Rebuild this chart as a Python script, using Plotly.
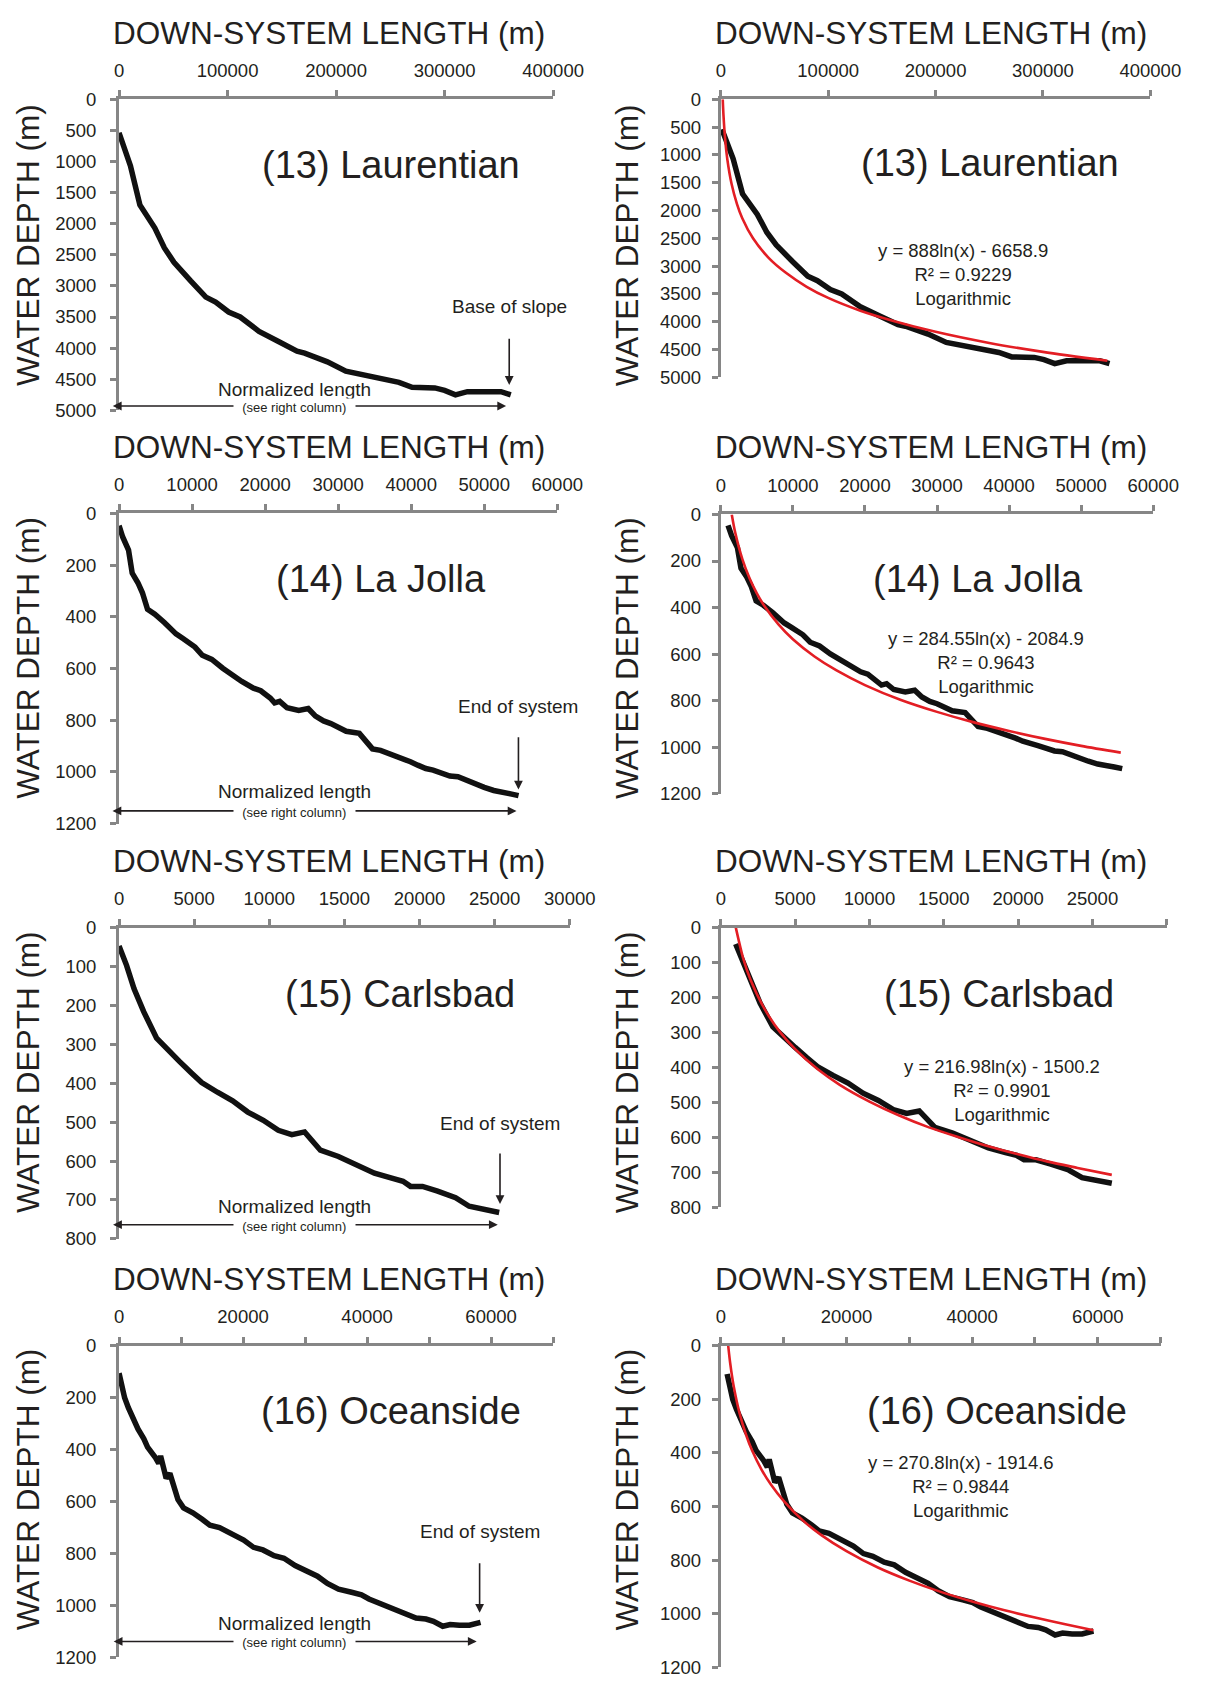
import plotly.graph_objects as go

W, H = 1224, 1686

# ---------------- DATA ----------------
# Left column: down-system length (m) vs water depth (m)
lau_x = [0, 10500, 19200, 33000, 41800, 50600, 66000, 80000, 89000, 101000, 111600, 129000,
         146500, 164000, 171000, 185000, 192000, 209000, 227000, 244000, 258000, 270000,
         291000, 300000, 310000, 321000, 352000, 361000]
lau_y = [540, 1070, 1700, 2070, 2390, 2620, 2920, 3180, 3260, 3420, 3500, 3730,
         3890, 4050, 4080, 4180, 4220, 4370, 4440, 4500, 4550, 4630,
         4640, 4680, 4750, 4700, 4700, 4750]

lj_x = [0, 500, 1300, 1800, 2600, 3200, 3900, 4900, 6200, 7800, 8800, 10400, 11400, 12700,
        14200, 15500, 16800, 18400, 19400, 20700, 21300, 22000, 23000, 24600, 25900, 26900,
        28000, 29000, 30000, 31100, 32900, 33700, 34700, 35800, 37000, 38600, 39900, 40900,
        42000, 43000, 44300, 45300, 46400, 47700, 48700, 50000, 51300, 52600, 53600, 54700]
lj_y = [47, 91, 142, 231, 269, 307, 371, 390, 422, 466, 485, 517, 549, 565,
        599, 625, 650, 676, 686, 714, 733, 727, 752, 762, 755, 784,
        803, 813, 828, 843, 851, 879, 911, 917, 930, 942, 961, 974,
        987, 993, 1006, 1016, 1019, 1035, 1044, 1060, 1072, 1082, 1085, 1092]

carl_x = [0, 500, 1000, 1640, 2500, 3300, 4000, 4800, 5500, 6550, 7560, 8570, 9600, 10600,
          11500, 12350, 13400, 14600, 15900, 17000, 18150, 18900, 19400, 20200, 21200,
          22400, 23300, 24200, 25300]
carl_y = [47, 97, 157, 216, 284, 313, 343, 373, 398, 423, 445, 474, 495, 521,
          532, 525, 572, 588, 610, 631, 644, 652, 665, 665, 677,
          694, 716, 722, 732]

oc_x = [0, 500, 900, 1500, 2400, 3050, 4000, 4600, 5800, 6400, 6700, 7200, 7600, 8200,
        8900, 9500, 10400, 11900, 13400, 14650, 16200, 18300, 20100, 21700, 23200, 25000,
        26600, 28400, 30500, 32000, 33600, 35400, 37500, 39100, 40300, 42100, 44000, 45800,
        47900, 49500, 50700, 52200, 53400, 54900, 56500, 58300]
oc_y = [105, 162, 200, 238, 289, 320, 358, 390, 428, 453, 424, 478, 510, 491,
        542, 592, 624, 643, 668, 691, 700, 725, 748, 776, 786, 808,
        818, 846, 868, 887, 915, 937, 949, 959, 975, 991, 1010, 1027,
        1048, 1052, 1061, 1080, 1073, 1076, 1076, 1065]

# Right column: profiles plotted with a 1000 m origin shift (log fit needs x > 0)
right_shift = 1000

# Logarithmic trend lines (red)
lau_fit_x = [1800, 2500, 4000, 6000, 10000, 15000, 20000, 30000, 45000, 60000, 80000, 100000,
             130000, 160000, 200000, 250000, 300000, 360000]
lau_fit_y = [0, 290, 710, 1070, 1520, 1880, 2140, 2500, 2860, 3110, 3370, 3570,
             3800, 3980, 4180, 4380, 4540, 4700]
lj_fit_x = [1520, 2000, 3000, 4000, 5000, 6000, 8000, 10000, 13000, 16000, 20000, 25000,
            30000, 35000, 40000, 45000, 50000, 55500]
lj_fit_y = [0, 78, 193, 275, 339, 391, 472, 536, 610, 669, 733, 797,
            848, 892, 930, 964, 994, 1023]
carl_fit_x = [1010, 1500, 2000, 3000, 4000, 5000, 6500, 8000, 10000, 12000, 14000, 16000,
              18000, 20000, 22000, 24000, 26300]
carl_fit_y = [0, 87, 149, 237, 300, 348, 405, 450, 498, 538, 572, 600,
              626, 649, 670, 688, 708]
oc_fit_x = [1180, 1500, 2000, 3000, 4000, 5000, 6500, 8000, 10000, 13000, 16000, 20000,
            25000, 30000, 35000, 40000, 45000, 50000, 55000, 59300]
oc_fit_y = [0, 66, 144, 253, 331, 392, 463, 519, 579, 651, 707, 767,
            828, 877, 919, 955, 987, 1015, 1041, 1062]

# Tick values
lau_xticks = [0, 100000, 200000, 300000, 400000]
lau_yticks = [0, 500, 1000, 1500, 2000, 2500, 3000, 3500, 4000, 4500, 5000]
lj_xticks = [0, 10000, 20000, 30000, 40000, 50000, 60000]
lj_yticks = [0, 200, 400, 600, 800, 1000, 1200]
carl_xticks = [0, 5000, 10000, 15000, 20000, 25000, 30000]
carl_xlabels_left = ["0", "5000", "10000", "15000", "20000", "25000", "30000"]
carl_xlabels_right = ["0", "5000", "10000", "15000", "20000", "25000", ""]
carl_yticks = [0, 100, 200, 300, 400, 500, 600, 700, 800]
oc_xticks = [0, 20000, 40000, 60000]
oc_yticks = [0, 200, 400, 600, 800, 1000, 1200]

names = ["(13) Laurentian", "(14) La Jolla", "(15) Carlsbad", "(16) Oceanside"]
equations = ["y = 888ln(x) - 6658.9<br>R² = 0.9229<br>Logarithmic",
             "y = 284.55ln(x) - 2084.9<br>R² = 0.9643<br>Logarithmic",
             "y = 216.98ln(x) - 1500.2<br>R² = 0.9901<br>Logarithmic",
             "y = 270.8ln(x) - 1914.6<br>R² = 0.9844<br>Logarithmic"]
end_labels = ["Base of slope", "End of system", "End of system", "End of system"]

# ---------------- LAYOUT GEOMETRY (pixels) ----------------
FONT = "Liberation Sans, Arial, Helvetica, sans-serif"
TXT = "#231f20"
AXC = "#868686"

def fx(px):
    return px / W

def fy(py):
    return 1 - py / H

# per panel: x-domain px, y-domain px, x range, y range, x ticks, x labels, y ticks, minor dtick
panels = [
    dict(xd=(117.5, 564.7), yd=(89.3, 404.4), xr=[0, 400000], yr=[5000, 0],
         xt=lau_xticks, xl=None, yt=lau_yticks, minor=None, sd=10),
    dict(xd=(737.5, 1180.0), yd=(89.3, 371.1), xr=[0, 400000], yr=[5000, 0],
         xt=lau_xticks, xl=None, yt=lau_yticks, minor=None, sd=7),
    dict(xd=(117.5, 569.0), yd=(508.8, 822.8), xr=[0, 60000], yr=[1200, 0],
         xt=lj_xticks, xl=None, yt=lj_yticks, minor=None, sd=10),
    dict(xd=(737.5, 1183.0), yd=(509.8, 792.7), xr=[0, 60000], yr=[1200, 0],
         xt=lj_xticks, xl=None, yt=lj_yticks, minor=None, sd=7),
    dict(xd=(117.5, 581.9), yd=(928.2, 1243.4), xr=[0, 30000], yr=[800, 0],
         xt=carl_xticks, xl=carl_xlabels_left, yt=carl_yticks, minor=None, sd=10),
    dict(xd=(737.5, 1197.0), yd=(928.2, 1211.1), xr=[0, 30000], yr=[800, 0],
         xt=carl_xticks, xl=carl_xlabels_right, yt=carl_yticks, minor=None, sd=7),
    dict(xd=(117.5, 564.7), yd=(1351.7, 1667.2), xr=[0, 70000], yr=[1200, 0],
         xt=oc_xticks, xl=None, yt=oc_yticks, minor=10000, sd=10),
    dict(xd=(737.5, 1190.7), yd=(1351.7, 1677.0), xr=[0, 70000], yr=[1200, 0],
         xt=oc_xticks, xl=None, yt=oc_yticks, minor=10000, sd=7),
]

profiles = [(lau_x, lau_y), (lj_x, lj_y), (carl_x, carl_y), (oc_x, oc_y)]
fits = [(lau_fit_x, lau_fit_y), (lj_fit_x, lj_fit_y), (carl_fit_x, carl_fit_y), (oc_fit_x, oc_fit_y)]

fig = go.Figure()
layout_axes = {}

for i, p in enumerate(panels, start=1):
    xname = "xaxis" if i == 1 else f"xaxis{i}"
    yname = "yaxis" if i == 1 else f"yaxis{i}"
    xref = "x" if i == 1 else f"x{i}"
    yref = "y" if i == 1 else f"y{i}"
    xlabels = p["xl"] if p["xl"] is not None else [str(v) for v in p["xt"]]
    xa = dict(domain=[fx(p["xd"][0]), fx(p["xd"][1])], range=p["xr"], anchor=yref,
              side="top", showgrid=False, zeroline=False, showline=True,
              linecolor=AXC, linewidth=3, ticks="outside", ticklen=6, tickwidth=3,
              tickcolor=AXC, tickvals=p["xt"], ticktext=xlabels,
              tickfont=dict(family=FONT, size=18.5, color=TXT),
              ticklabelstandoff=6, fixedrange=True)
    if p["minor"]:
        xa["minor"] = dict(dtick=p["minor"], ticks="outside", ticklen=6, tickwidth=3,
                           tickcolor=AXC, showgrid=False)
    ya = dict(domain=[fy(p["yd"][1]), fy(p["yd"][0])], range=p["yr"], anchor=xref,
              showgrid=False, zeroline=False, showline=True, linecolor=AXC, linewidth=3,
              ticks="outside", ticklen=6, tickwidth=3, tickcolor=AXC,
              tickvals=p["yt"], ticktext=[str(v) for v in p["yt"]],
              tickfont=dict(family=FONT, size=18.5, color=TXT),
              ticklabelstandoff=p["sd"], fixedrange=True)
    layout_axes[xname] = xa
    layout_axes[yname] = ya

    k = (i - 1) // 2
    px_, py_ = profiles[k]
    if i % 2 == 1:
        fig.add_trace(go.Scatter(x=px_, y=py_, xaxis=xref, yaxis=yref, mode="lines",
                                 line=dict(color="#111111", width=5.5), showlegend=False,
                                 hoverinfo="skip"))
    else:
        sx = [v + right_shift for v in px_]
        fig.add_trace(go.Scatter(x=sx, y=py_, xaxis=xref, yaxis=yref, mode="lines",
                                 line=dict(color="#111111", width=5.5), showlegend=False,
                                 hoverinfo="skip"))
        fxs, fys = fits[k]
        fig.add_trace(go.Scatter(x=fxs, y=fys, xaxis=xref, yaxis=yref, mode="lines",
                                 line=dict(color="#e31e24", width=2.6, shape="spline",
                                           smoothing=0.8),
                                 showlegend=False, hoverinfo="skip"))

annotations = []

def txt(x, y, text, size, **kw):
    d = dict(x=fx(x), y=fy(y), xref="paper", yref="paper", text=text, showarrow=False,
             xanchor="center", yanchor="middle",
             font=dict(family=FONT, size=size, color=TXT))
    d.update(kw)
    annotations.append(d)

def arrow(x_head, y_head, x_tail, y_tail, both=False):
    annotations.append(dict(x=fx(x_head), y=fy(y_head), xref="paper", yref="paper",
                            ax=x_tail - x_head, ay=y_tail - y_head, axref="pixel", ayref="pixel",
                            text="", showarrow=True, arrowhead=2, arrowsize=1.1,
                            arrowwidth=1.6, arrowcolor=TXT,
                            arrowside="end+start" if both else "end",
                            standoff=0, startstandoff=0))

# axis titles
row_title_y = [22.5, 442.0, 860.5, 1284.0]
row_ylabel_y = [237.0, 655.0, 1074.5, 1497.0]
for r in range(4):
    txt(334.0, row_title_y[r], "DOWN-SYSTEM LENGTH (m)", 31.5)
    txt(954.0, row_title_y[r], "DOWN-SYSTEM LENGTH (m)", 31.5)
    txt(23.7, row_ylabel_y[r], "WATER DEPTH (m)", 31.5, textangle=-90)
    txt(641.0, row_ylabel_y[r], "WATER DEPTH (m)", 31.5, textangle=-90)

# panel names
name_pos_left = [(398, 156), (387, 575.5), (406.6, 995), (398, 1417.6)]
name_pos_right = [(1015, 154), (1002.5, 575.5), (1024, 995), (1022, 1417.6)]
for r in range(4):
    txt(*name_pos_left[r], names[r], 38)
    txt(*name_pos_right[r], names[r], 38)

# equations
eq_pos = [(987.4, 267), (1011, 659.3), (1027, 1092.8), (985, 1494)]
for r in range(4):
    txt(*eq_pos[r], equations[r], 18.5)

# left-column annotations
end_text = [(519.5, 299), (529, 704.5), (510, 1127), (489, 1540)]
end_arrow = [(519.5, 331, 378.6), (529, 734.6, 788.4), (510, 1156, 1208), (489, 1571, 1622)]
norm_y = [383, 790.6, 1211, 1633]
dbl = [(121.5, 516.3, 400), (121.5, 527, 810), (121.5, 507.7, 1229), (121.5, 486, 1651)]
for r in range(4):
    txt(*end_text[r], end_labels[r], 19)
    ax_, y0, y1 = end_arrow[r]
    arrow(ax_, y1, ax_, y0)
    txt(298, norm_y[r], "Normalized length", 19)
    x0, x1, yy = dbl[r]
    arrow(x1, yy, x0, yy, both=True)
    txt(298, yy + 1.5, "  (see right column)  ", 13, bgcolor="white", borderpad=1)

fig.update_layout(width=W, height=H, autosize=False,
                  margin=dict(l=0, r=0, t=0, b=0),
                  paper_bgcolor="white", plot_bgcolor="white",
                  annotations=annotations, **layout_axes)

fig.write_html("out.html")
